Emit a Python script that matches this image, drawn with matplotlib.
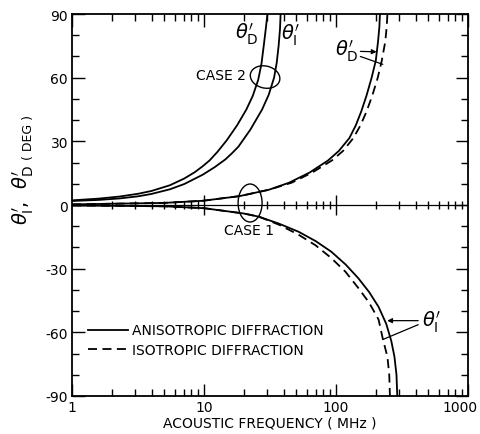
import numpy as np
import matplotlib.pyplot as plt
import matplotlib.transforms as mtransforms
from matplotlib.patches import Ellipse

plt.rcParams['font.family'] = 'DejaVu Sans'
plt.rcParams['axes.unicode_minus'] = False
plt.rcParams['mathtext.fontset'] = 'dejavusans'

# CASE 2 (anisotropic only)
freq_d2 = [1, 1.58, 2.29, 3.16, 3.98, 5.5, 7.08, 8.51, 9.77, 11.0, 12.6, 14.8,
           17.8, 20.9, 23.4, 25.7, 27.2, 28.3, 29.4, 30.2]
theta_d2 = [2.2, 3, 4, 5.3, 6.6, 9.3, 12.5, 15.5, 18.3, 21, 25, 30.4,
            37.6, 45, 51.5, 59, 66.5, 75, 83.5, 90]
freq_i2 = [1, 1.58, 2.29, 3.16, 3.98, 5.5, 7.08, 9.77, 12.0, 14.5, 16.2, 18.2,
           22.4, 27.5, 30.9, 33.9, 35.5, 36.7, 37.6, 38.0]
theta_i2 = [1.9, 2.4, 3.1, 4.1, 5.2, 7.4, 9.9, 14.3, 17.8, 21.5, 24.3, 27.5,
            35.5, 45, 52, 60, 67, 75, 83, 90]

# CASE 1, theta_d' (upper branch)
freq_d1_aniso = [1, 5, 9.8, 18.6, 31, 44, 63, 87, 105, 126, 141, 155, 170,
                 186, 200, 208, 213, 215]
freq_d1_iso = [1, 5, 9.8, 18.6, 31, 46, 66, 93, 113, 135, 153, 170, 188,
               207, 222, 236, 242, 245]
theta_d1 = [0.3, 1.0, 2.0, 4.2, 7.2, 10.5, 15.3, 21, 25.5, 31.5, 37.5, 44,
            51.5, 60, 68, 77, 84, 90]

# CASE 1, theta_i' (lower branch)
freq_i1_aniso = [1, 5, 10, 20, 26, 37, 52, 70, 92, 118, 147, 178, 210, 240,
                 262, 277, 287, 291]
theta_i1_aniso = [-0.2, -0.6, -1.5, -4, -5.5, -8.8, -12.6, -17, -22, -28,
                  -34.4, -41, -48, -56, -64, -71.5, -80, -90]
freq_i1_iso = [1, 5, 10, 20, 26, 37, 52, 70, 92, 118, 147, 178, 210, 226,
               245, 253, 256]
theta_i1_iso = [-0.2, -0.6, -1.5, -4, -5.5, -9.3, -14, -19, -25, -31.5,
                -39, -46, -54, -63, -71.5, -80, -90]

y_major = [-90, -60, -30, 0, 30, 60, 90]
x_major = [1, 10, 100, 1000]
x_labels = ['1', '10', '100', '1000']

fig = plt.figure(figsize=(4.81, 4.35), dpi=100)
ax = fig.add_axes([0.150, 0.0874, 0.823, 0.878])

lw = 1.3
dash = (0, (5, 3))
ax.plot(freq_d2, theta_d2, color='black', lw=lw)
ax.plot(freq_i2, theta_i2, color='black', lw=lw)
l_an, = ax.plot(freq_d1_aniso, theta_d1, color='black', lw=lw,
                label='ANISOTROPIC DIFFRACTION')
l_is, = ax.plot(freq_d1_iso, theta_d1, color='black', lw=lw, linestyle=dash,
                label='ISOTROPIC DIFFRACTION')
ax.plot(freq_i1_aniso, theta_i1_aniso, color='black', lw=lw)
ax.plot(freq_i1_iso, theta_i1_iso, color='black', lw=lw, linestyle=dash)

# zero line with its own tick marks
ax.axhline(0, color='black', lw=0.9)
minor_pos = [m * 10 ** d for d in range(3) for m in range(2, 10)]
ax.plot(minor_pos, [0] * len(minor_pos), linestyle='none', marker='|',
        color='black', markersize=6, markeredgewidth=1.0)
ax.plot([10, 100], [0, 0], linestyle='none', marker='|',
        color='black', markersize=15, markeredgewidth=1.0)

ax.set_xscale('log')
ax.set_xlim(1, 1000)
ax.set_ylim(-90, 90)
ax.set_xticks(x_major)
ax.set_xticklabels(x_labels)
ax.set_yticks(y_major)
ax.set_yticks(np.arange(-90, 91, 10), minor=True)
ax.tick_params(which='both', direction='in', top=True, right=True,
               labelsize=10, width=1.0, pad=3)
ax.tick_params(which='major', length=9)
ax.tick_params(which='minor', length=5)
for s in ax.spines.values():
    s.set_linewidth(1.3)
# keep "1000" inside the picture
last = ax.get_xticklabels()[-1]
last.set_transform(last.get_transform() +
                   mtransforms.ScaledTranslation(-0.08, 0, fig.dpi_scale_trans))

ax.set_xlabel('ACOUSTIC FREQUENCY ( MHz )', fontsize=10, labelpad=1)
fig.text(0.048, 0.552, r"$\theta_{\rm I}'$,  $\theta_{\rm D}'$", rotation=90,
         fontsize=14, ha='center', va='center')
fig.text(0.060, 0.683, '( DEG )', rotation=90, fontsize=9,
         ha='center', va='center')

# labels and arrows
ax.text(21.2, 80.9, r"$\theta_{\rm D}'$", fontsize=14, ha='center', va='center')
ax.text(45.5, 80.4, r"$\theta_{\rm I}'$", fontsize=14, ha='center', va='center')
ax.text(13.3, 61.1, 'CASE 2', fontsize=10, ha='center', va='center')
ax.text(21.9, -12.0, 'CASE 1', fontsize=10, ha='center', va='center')
ax.add_patch(Ellipse(((265 - 72) / 396, (397 - 78) / 382), 30 / 396, 22 / 382,
                     angle=-15, transform=ax.transAxes, fill=False, lw=1.0))
ax.add_patch(Ellipse(((250 - 72) / 396, (397 - 204) / 382), 24 / 396, 38 / 382,
                     transform=ax.transAxes, fill=False, lw=1.0))

ax.text(120, 72.9, r"$\theta_{\rm D}'$", fontsize=14, ha='center', va='center')
ax.annotate('', xy=(203, 72.2), xytext=(153, 72.4),
            arrowprops=dict(arrowstyle='-|>', color='black', lw=0.9,
                            mutation_scale=7, shrinkA=0, shrinkB=0))
ax.annotate('', xy=(226, 66.3), xytext=(153, 70.0),
            arrowprops=dict(arrowstyle='-', color='black', lw=0.9,
                            shrinkA=0, shrinkB=0))

ax.text(530, -55.0, r"$\theta_{\rm I}'$", fontsize=14, ha='center', va='center')
ax.annotate('', xy=(244, -54.5), xytext=(419, -54.5),
            arrowprops=dict(arrowstyle='-|>', color='black', lw=0.9,
                            mutation_scale=7, shrinkA=0, shrinkB=0))
ax.annotate('', xy=(226, -63.4), xytext=(419, -56.4),
            arrowprops=dict(arrowstyle='-', color='black', lw=0.9,
                            shrinkA=0, shrinkB=0))

ax.legend(handles=[l_an, l_is], loc='upper left', bbox_to_anchor=(0.04, 0.19),
          frameon=False, fontsize=10, handlelength=2.9, handletextpad=0.25,
          labelspacing=0.4, borderpad=0, borderaxespad=0)

fig.savefig('out.png', dpi=100)
